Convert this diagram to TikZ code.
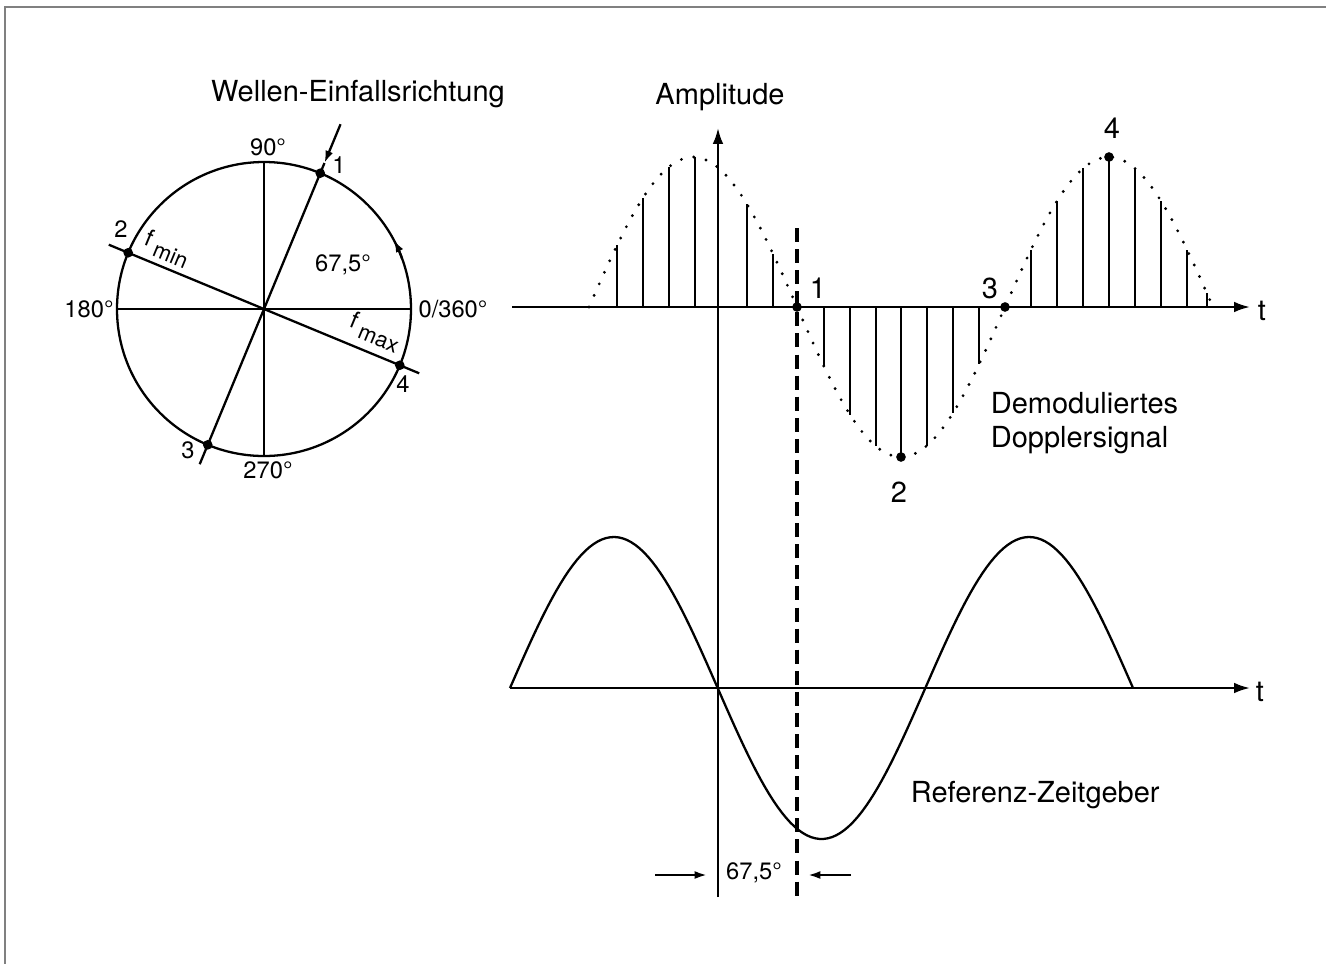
\documentclass[tikz,border=0pt]{standalone}
\usepackage{fontspec}
\setmainfont{TeX Gyre Heros}
\usetikzlibrary{arrows.meta}
\tikzset{circ/.style = {fill, circle, inner sep = 0, minimum size = 5.5pt}}
\tikzset{arr/.style = {-{Latex[length=9pt,width=6pt]}}}
\tikzset{smallarr/.style = {-{Latex[length=7pt,width=4.5pt]}}}
\tikzset{lbl/.style = {font=\fontsize{16.5}{19.5}\selectfont, inner sep=1pt}}
\tikzset{sml/.style = {font=\fontsize{13.5}{16}\selectfont, inner sep=1pt}}
\tikzset{dotsig/.style = {line width=1.8pt, line cap=round, dash pattern=on 0pt off 7.2pt}}
\tikzset{dashline/.style = {line width=1.9pt, dash pattern=on 8pt off 4pt}}
\newcommand{\fsub}[1]{f\hspace{3pt}\raisebox{-4pt}{\fontsize{12.5}{14}\selectfont #1}}

\begin{document}
\begin{tikzpicture}[x=0.02cm, y=0.02cm, line width=1.3pt]
      \useasboundingbox (0,0) rectangle (1326,-964);
      \draw[gray, line width=1.2pt] (5,-964) -- (5,-7) -- (1326,-7);

      % Kreis mit Einfallsrichtung
      \coordinate (c) at (264,-309);
      \draw (c) circle (147);
      \draw (c) ++(180:147) coordinate (w) -- ++(294,0) coordinate (e);
      \draw (c) ++(90:147) coordinate (n) -- ++(0,-294) coordinate (s);
      \path (c) ++(67.5:147) node[circ] (p1) {};
      \path (c) ++(157.5:147) node[circ] (p2) {};
      \path (c) ++(247.5:147) node[circ] (p3) {};
      \path (c) ++(-22.5:147) node[circ] (p4) {};
      \path (c) ++(67.5:200) coordinate (din);
      \path (c) ++(67.5:158) coordinate (dtip);
      \path (c) ++(247.5:168) coordinate (dout);
      \path (c) ++(157.5:168) coordinate (fa);
      \path (c) ++(-22.5:168) coordinate (fb);
      \draw[smallarr] (din) -- (dtip);
      \draw (dtip) -- (dout);
      \draw (fa) -- (fb);
      \draw[smallarr] (c) ++(20:147) arc (20:28:147);

      \node[lbl] (title) at (358,-94) {Wellen-Einfallsrichtung};
      \node[sml] (l90) at (268,-147) {90°};
      \node[sml] (l180) at (89,-309) {180°};
      \node[sml] (l0) at (453,-309) {0/360°};
      \node[sml] (l270) at (268,-470) {270°};
      \node[sml] (lp1) at (339,-165) {1};
      \node[sml] (lp2) at (121,-229) {2};
      \node[sml] (lp3) at (188,-450) {3};
      \node[sml] (lp4) at (403,-384) {4};
      \node[sml] (lang) at (343,-265) {67,5°};
      \node[sml, rotate=-22.5] (fmin) at (167,-249) {\fsub{min}};
      \node[sml, rotate=-22.5] (fmax) at (375,-332) {\fsub{max}};

      % Achsen
      \coordinate (a0) at (718,-897);
      \coordinate (a1) at (718,-128);
      \coordinate (t1a) at (512,-307);
      \coordinate (t1b) at (1250,-307);
      \coordinate (t2a) at (510,-688);
      \coordinate (t2b) at (1250,-688);
      \coordinate (d0) at (797,-228);
      \coordinate (d1) at (797,-897);
      \draw[arr] (t1a) -- (t1b);
      \draw[arr] (t2a) -- (t2b);
      \draw[arr] (a0) -- (a1);
      \draw[dashline] (d0) -- (d1);
      \node[lbl] (amp) at (720,-97) {Amplitude};
      \node[lbl] (t1) at (1262,-311) {t};
      \node[lbl] (t2) at (1260,-692) {t};

      % Demoduliertes Dopplersignal
      \draw[dotsig] plot[domain=589:1213, samples=120] (\x, {-307+150*sin((\x-589)/208*180)});
      \foreach \x in {617,643,669,695,747,773,824,850,876,927,953,979,1031,1057,1083,1135,1161,1187,1207}
        \draw (\x,-307) -- (\x,{-307+150*sin((\x-589)/208*180)});
      \draw (901,-307) -- (901,-457) node[circ] (q2) {};
      \draw (1109,-307) -- (1109,-157) node[circ] (q4) {};
      \node[circ] (q1) at (797,-307) {};
      \node[circ] (q3) at (1005,-307) {};
      \node[lbl] (lq1) at (818,-288) {1};
      \node[lbl] (lq2) at (899,-492) {2};
      \node[lbl] (lq3) at (990,-288) {3};
      \node[lbl] (lq4) at (1112,-128) {4};
      \node[lbl, align=left, anchor=west] (demod) at (988,-423) {Demoduliertes\\Dopplersignal};

      % Referenz-Zeitgeber
      \draw plot[domain=510:1133, samples=150] (\x, {-688+151*sin((\x-510)/207.67*180)});
      \node[lbl, anchor=west] (ref) at (908,-795) {Referenz-Zeitgeber};

      % Phasenwinkel
      \coordinate (pa) at (655,-875);
      \coordinate (pb) at (707,-875);
      \coordinate (pc) at (851,-875);
      \coordinate (pd) at (808,-875);
      \draw[smallarr] (pa) -- (pb);
      \draw[smallarr] (pc) -- (pd);
      \node[sml] (phi) at (754,-873) {67,5°};
    \end{tikzpicture}
\end{document}
